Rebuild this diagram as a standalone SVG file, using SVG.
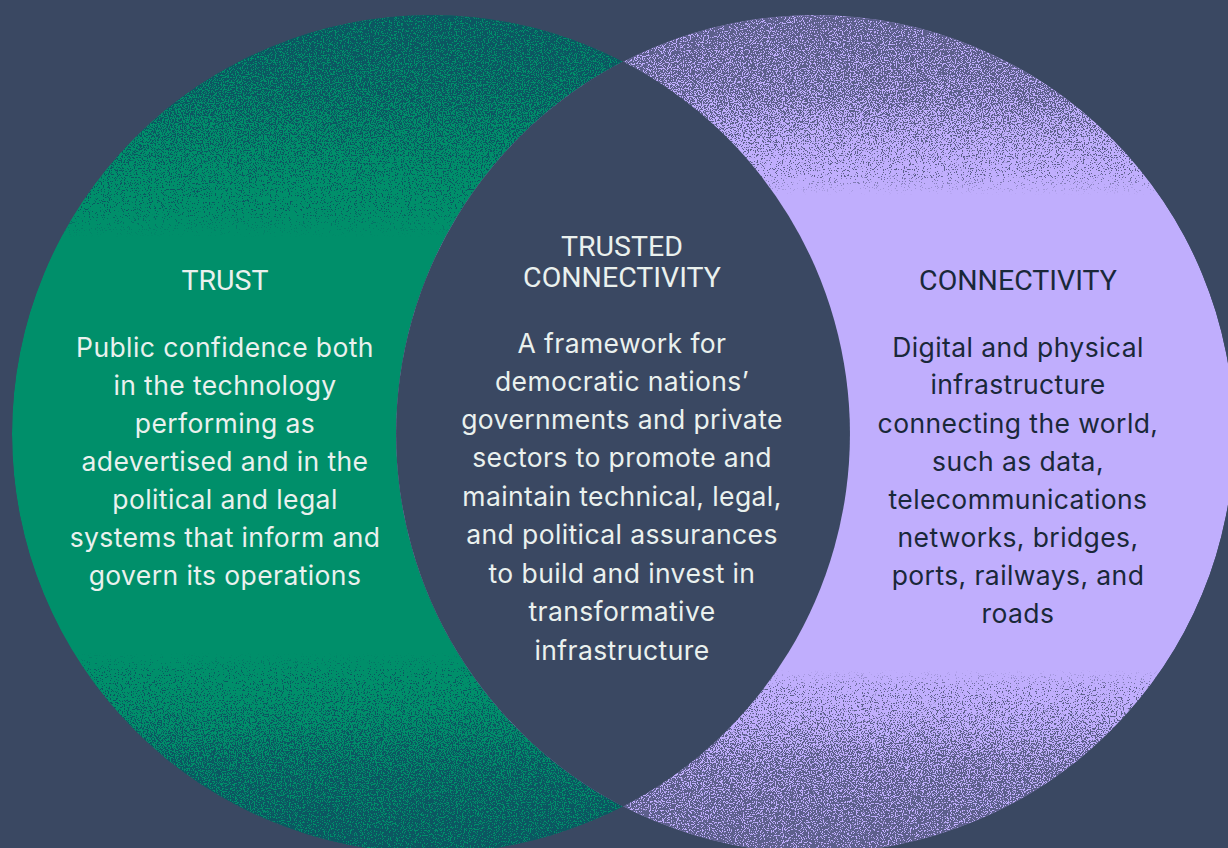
<svg xmlns="http://www.w3.org/2000/svg" width="1228" height="848" viewBox="0 0 1228 848">
  <style>
    .title { font-family: Roboto, "Liberation Sans", sans-serif; font-size: 28.5px; font-weight: 400; text-anchor: middle; }
    .body { font-family: Inter, "Liberation Sans", sans-serif; font-size: 26.5px; font-weight: 400; letter-spacing: 0.4px; text-anchor: middle; }
    .light { fill: #eaf1ee; }
    .dark { fill: #1a2839; }
  </style>
  <defs>
    <clipPath id="clipL"><circle cx="431" cy="434" r="419"/></clipPath>
    <clipPath id="clipR"><circle cx="815" cy="434" r="419"/></clipPath>
    <linearGradient id="shadeL" gradientUnits="userSpaceOnUse" x1="0" y1="0" x2="0" y2="848">
      <stop offset="0.02" stop-color="#fff" stop-opacity="0.86"/>
      <stop offset="0.11" stop-color="#fff" stop-opacity="0.66"/>
      <stop offset="0.28" stop-color="#fff" stop-opacity="0"/>
      <stop offset="0.77" stop-color="#fff" stop-opacity="0"/>
      <stop offset="0.90" stop-color="#fff" stop-opacity="0.66"/>
      <stop offset="1" stop-color="#fff" stop-opacity="0.86"/>
    </linearGradient>
    <linearGradient id="shadeR" gradientUnits="userSpaceOnUse" x1="0" y1="0" x2="0" y2="848">
      <stop offset="0.02" stop-color="#fff" stop-opacity="0.86"/>
      <stop offset="0.11" stop-color="#fff" stop-opacity="0.66"/>
      <stop offset="0.23" stop-color="#fff" stop-opacity="0"/>
      <stop offset="0.79" stop-color="#fff" stop-opacity="0"/>
      <stop offset="0.90" stop-color="#fff" stop-opacity="0.66"/>
      <stop offset="1" stop-color="#fff" stop-opacity="0.86"/>
    </linearGradient>
    <filter id="ditherL" filterUnits="userSpaceOnUse" x="0" y="0" width="1228" height="848" color-interpolation-filters="sRGB">
      <feTurbulence type="fractalNoise" baseFrequency="0.85" numOctaves="2" seed="4" result="noise"/>
      <feColorMatrix in="noise" type="matrix" values="0 0 0 0 0  0 0 0 0 0  0 0 0 0 0  3 0 0 0 -1" result="na"/>
      <feComposite in="SourceAlpha" in2="na" operator="arithmetic" k1="0" k2="8" k3="8" k4="-8" result="m"/>
      <feFlood flood-color="#0c5661"/>
      <feComposite in2="m" operator="in"/>
    </filter>
    <filter id="ditherR" filterUnits="userSpaceOnUse" x="0" y="0" width="1228" height="848" color-interpolation-filters="sRGB">
      <feTurbulence type="fractalNoise" baseFrequency="0.85" numOctaves="2" seed="9" result="noise"/>
      <feColorMatrix in="noise" type="matrix" values="0 0 0 0 0  0 0 0 0 0  0 0 0 0 0  3 0 0 0 -1" result="na"/>
      <feComposite in="SourceAlpha" in2="na" operator="arithmetic" k1="0" k2="8" k3="8" k4="-8" result="m"/>
      <feFlood flood-color="#5c5f8b"/>
      <feComposite in2="m" operator="in"/>
    </filter>
  </defs>

  <rect id="background" x="0" y="0" width="1228" height="848" fill="#3a4862"/>

  <g id="circle-trust">
    <g clip-path="url(#clipL)">
      <circle cx="431" cy="434" r="419" fill="#008f6a"/>
      <rect x="0" y="0" width="1228" height="848" fill="url(#shadeL)" filter="url(#ditherL)"/>
    </g>
  </g>

  <g id="circle-connectivity">
    <g clip-path="url(#clipR)">
      <circle cx="815" cy="434" r="419" fill="#c0aefd"/>
      <rect x="0" y="0" width="1228" height="848" fill="url(#shadeR)" filter="url(#ditherR)"/>
    </g>
  </g>

  <g id="overlap-trusted-connectivity">
    <path d="M623,61.6 A419,419 0 0 1 623,806.4 A419,419 0 0 1 623,61.6 Z" fill="#3a4862"/>
  </g>

  <g id="label-trust">
    <text class="title light" x="225" y="290">TRUST</text>
    <text class="body light" x="225" y="357">Public confidence both</text>
    <text class="body light" x="225" y="395">in the technology</text>
    <text class="body light" x="225" y="433">performing as</text>
    <text class="body light" x="225" y="471">adevertised and in the</text>
    <text class="body light" x="225" y="509">political and legal</text>
    <text class="body light" x="225" y="547">systems that inform and</text>
    <text class="body light" x="225" y="585">govern its operations</text>
  </g>

  <g id="label-trusted-connectivity">
    <text class="title light" x="622" y="256">TRUSTED</text>
    <text class="title light" x="622" y="287">CONNECTIVITY</text>
    <text class="body light" x="622" y="353">A framework for</text>
    <text class="body light" x="622" y="391">democratic nations’</text>
    <text class="body light" x="622" y="429">governments and private</text>
    <text class="body light" x="622" y="467">sectors to promote and</text>
    <text class="body light" x="622" y="506">maintain technical, legal,</text>
    <text class="body light" x="622" y="544">and political assurances</text>
    <text class="body light" x="622" y="583">to build and invest in</text>
    <text class="body light" x="622" y="621">transformative</text>
    <text class="body light" x="622" y="660">infrastructure</text>
  </g>

  <g id="label-connectivity">
    <text class="title dark" x="1018" y="290">CONNECTIVITY</text>
    <text class="body dark" x="1018" y="357">Digital and physical</text>
    <text class="body dark" x="1018" y="394">infrastructure</text>
    <text class="body dark" x="1018" y="433">connecting the world,</text>
    <text class="body dark" x="1018" y="471">such as data,</text>
    <text class="body dark" x="1018" y="509">telecommunications</text>
    <text class="body dark" x="1018" y="547">networks, bridges,</text>
    <text class="body dark" x="1018" y="585">ports, railways, and</text>
    <text class="body dark" x="1018" y="623">roads</text>
  </g>
</svg>
